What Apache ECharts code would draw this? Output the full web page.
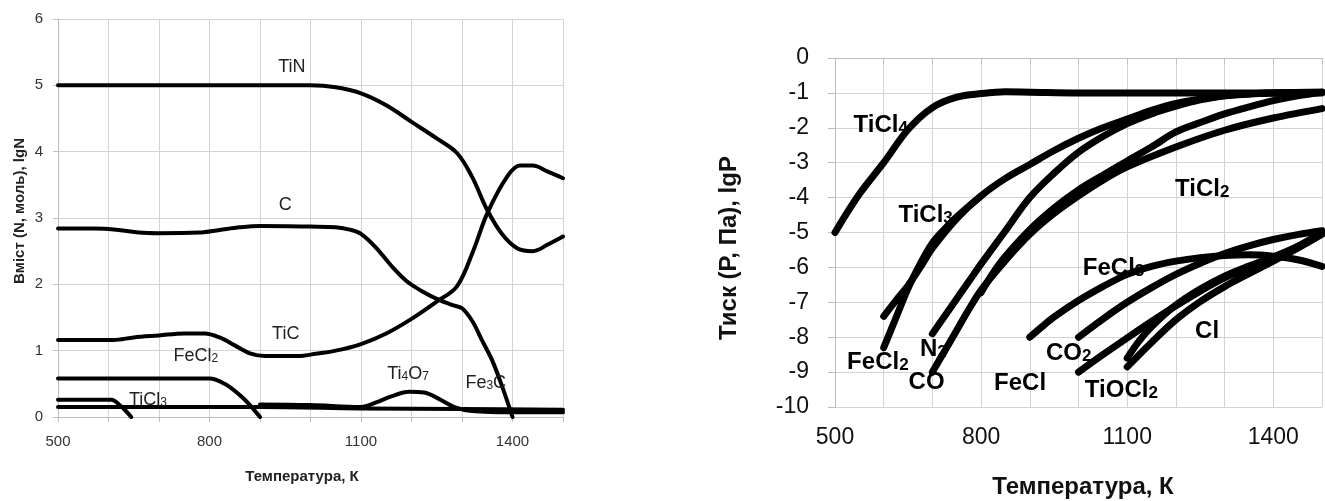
<!DOCTYPE html>
<html>
<head>
<meta charset="utf-8">
<script src="https://cdn.jsdelivr.net/npm/echarts@6/dist/echarts.min.js"></script>
<style>
html,body{margin:0;padding:0;background:#fff;}
#c{width:1325px;height:501px;}
</style>
</head>
<body>
<div id="c"></div>
<script>
// ---------- Left chart: Вміст (N, моль), lgN ----------
const L_xTicks = [500, 800, 1100, 1400];
const tTiN = [500, 1000, 1050, 1100, 1150, 1200, 1250, 1290, 1320, 1350, 1380, 1410, 1440, 1470, 1500];
const vTiN = [5, 5, 4.97, 4.88, 4.7, 4.45, 4.2, 3.98, 3.62, 3.12, 2.75, 2.54, 2.5, 2.6, 2.72];
const tC = [500, 570, 620, 660, 700, 780, 820, 860, 900, 1000, 1050, 1080, 1100, 1130, 1160, 1190, 1220, 1250, 1280, 1300, 1320, 1340, 1360, 1380, 1400];
const vC = [2.84, 2.84, 2.82, 2.78, 2.77, 2.78, 2.82, 2.86, 2.88, 2.87, 2.86, 2.82, 2.76, 2.55, 2.28, 2.05, 1.9, 1.78, 1.69, 1.64, 1.45, 1.15, 0.85, 0.45, 0.0];
const tTiC = [500, 610, 650, 700, 750, 790, 820, 850, 880, 910, 980, 1000, 1050, 1100, 1150, 1200, 1250, 1290, 1322, 1350, 1390, 1415, 1440, 1470, 1500];
const vTiC = [1.16, 1.16, 1.2, 1.23, 1.26, 1.26, 1.2, 1.08, 0.96, 0.92, 0.92, 0.94, 1.0, 1.1, 1.26, 1.48, 1.74, 1.97, 2.5, 3.07, 3.63, 3.79, 3.79, 3.7, 3.6];
const tFeCl2L = [500, 800, 830, 860, 880, 900];
const vFeCl2L = [0.58, 0.58, 0.5, 0.33, 0.18, 0.0];
const tTiCl3L = [500, 605, 625, 645];
const vTiCl3L = [0.26, 0.26, 0.16, 0.0];
const tBase = [500, 900, 1100, 1300, 1500];
const vBase = [0.15, 0.15, 0.13, 0.12, 0.11];
const tTi4O7 = [900, 1000, 1100, 1130, 1160, 1195, 1225, 1255, 1285, 1320, 1400, 1500];
const vTi4O7 = [0.19, 0.18, 0.15, 0.22, 0.31, 0.38, 0.37, 0.27, 0.15, 0.09, 0.07, 0.07];
const L_labels = ['{m|TiN}', '{m|C}', '{m|TiC}', '{m|FeCl}{s|2}', '{m|TiCl}{s|3}', '{m|Ti}{s|4}{m|O}{s|7}', '{m|Fe}{s|3}{m|C}'];
const L_labelX = [963, 950, 951, 773, 678, 1193, 1347];
const L_labelY = [5.3, 3.23, 1.28, 0.95, 0.29, 0.68, 0.54];

// ---------- Right chart: Тиск (Р, Па), lgP ----------
const R_xTicks = [500, 800, 1100, 1400];
const tTiCl4 = [500, 550, 600, 650, 700, 750, 800, 850, 900, 1000, 1100, 1200, 1300, 1400, 1500];
const vTiCl4 = [-5, -3.9, -3.0, -2.05, -1.42, -1.12, -1.02, -0.97, -0.98, -1.0, -1.0, -1.0, -1.0, -1.0, -1.0];
const tTiCl3 = [600, 625, 650, 675, 700, 750, 800, 850, 900, 950, 1000, 1050, 1100, 1150, 1200, 1300, 1400, 1500];
const vTiCl3 = [-7.4, -6.95, -6.52, -6.0, -5.45, -4.6, -3.95, -3.45, -3.05, -2.65, -2.3, -2.0, -1.75, -1.5, -1.3, -1.08, -1.0, -0.98];
const tFeCl2 = [600, 625, 650, 675, 700, 725, 750, 800];
const vFeCl2 = [-8.3, -7.45, -6.6, -5.9, -5.3, -4.9, -4.55, -3.95];
const tN2 = [700, 725, 750, 775, 800, 850, 900, 950, 1000, 1050, 1100, 1150, 1200, 1250, 1300, 1400, 1500];
const vN2 = [-7.9, -7.4, -6.9, -6.4, -5.9, -4.95, -4.0, -3.3, -2.7, -2.25, -1.88, -1.6, -1.38, -1.2, -1.08, -1.0, -0.98];
const tCO = [700, 725, 750, 775, 800, 850, 900, 950, 1000, 1050, 1100, 1200, 1300, 1400, 1500];
const vCO = [-9.0, -8.4, -7.8, -7.2, -6.65, -5.8, -5.05, -4.45, -3.95, -3.5, -3.12, -2.55, -2.07, -1.72, -1.45];
const tTiCl2 = [800, 825, 850, 900, 950, 1000, 1050, 1100, 1150, 1200, 1250, 1300, 1350, 1400, 1450, 1500];
const vTiCl2 = [-6.72, -6.15, -5.68, -4.92, -4.3, -3.78, -3.36, -2.95, -2.55, -2.12, -1.85, -1.6, -1.4, -1.22, -1.08, -0.98];
const tFeCl3 = [900, 925, 950, 1000, 1050, 1100, 1150, 1200, 1250, 1300, 1350, 1400, 1450, 1500];
const vFeCl3 = [-8.0, -7.7, -7.42, -6.95, -6.55, -6.2, -5.97, -5.82, -5.72, -5.66, -5.64, -5.68, -5.78, -5.97];
const tCO2 = [1000, 1050, 1100, 1150, 1200, 1250, 1300, 1350, 1400, 1450, 1500];
const vCO2 = [-8.0, -7.48, -7.0, -6.58, -6.2, -5.88, -5.6, -5.38, -5.2, -5.06, -4.95];
const tTiOCl2 = [1000, 1050, 1100, 1150, 1200, 1250, 1300, 1350, 1400, 1450, 1500];
const vTiOCl2 = [-9.0, -8.5, -8.02, -7.55, -7.1, -6.68, -6.3, -6.02, -5.75, -5.4, -5.0];
const tCl1 = [1100, 1125, 1150, 1200, 1250, 1300, 1350, 1400, 1450, 1500];
const vCl1 = [-8.6, -8.1, -7.7, -7.08, -6.62, -6.25, -5.96, -5.7, -5.4, -5.02];
const tCl2 = [1100, 1150, 1200, 1250, 1300, 1350, 1400, 1450, 1500];
const vCl2 = [-8.85, -8.15, -7.5, -6.98, -6.55, -6.18, -5.82, -5.45, -5.05];
const R_labels = ['{m|TiCl}{s|4}', '{m|TiCl}{s|3}', '{m|TiCl}{s|2}', '{m|FeCl}{s|3}', '{m|FeCl}{s|2}', '{m|N}{s|2}', '{m|CO}', '{m|FeCl}', '{m|CO}{s|2}', '{m|TiOCl}{s|2}', '{m|Cl}'];
const R_labelX = [594, 686, 1254, 1072, 588, 702, 688, 880, 980, 1088, 1264];
const R_labelY = [-1.86, -4.44, -3.70, -5.96, -8.65, -8.28, -9.23, -9.26, -8.40, -9.46, -7.77];

const FONT = '"Liberation Sans", Arial, sans-serif';
const zip = (a, b) => a.map((x, i) => [x, b[i]]);

function lineSeries(idx, t, v, w) {
  return {
    type: 'line', xAxisIndex: idx, yAxisIndex: idx,
    data: zip(t, v), showSymbol: false, smooth: 0.35,
    silent: true,
    lineStyle: { color: '#000', width: w, cap: 'round', join: 'round' }
  };
}
function labelSeries(idx, names, xs, ys, mSize, sSize, bold, sLH, mLH, col) {
  const base = { fontFamily: FONT, fontWeight: bold ? 'bold' : 'normal', color: col, textBorderWidth: 0, textShadowBlur: 0, verticalAlign: 'bottom' };
  return {
    type: 'scatter', xAxisIndex: idx, yAxisIndex: idx, silent: true,
    symbolSize: 1, itemStyle: { color: 'rgba(0,0,0,0)' },
    data: names.map((n, i) => [xs[i], ys[i], n]),
    label: {
      show: true, position: 'inside', color: col, textBorderWidth: 0, opacity: 1,
      formatter: p => p.data[2],
      rich: {
        m: Object.assign({}, base, { fontSize: mSize, lineHeight: mLH }),
        s: Object.assign({}, base, { fontSize: sSize, lineHeight: sLH })
      }
    },
    z: 5
  };
}

const grid = [
  { left: 58, right: 762, top: 19, bottom: 84 },
  { left: 835, right: -10, top: 58, bottom: 94 }
];
const gridColor = '#d3d3d3';
const xAxis = [
  {
    gridIndex: 0, type: 'value', min: 500, max: 1500, interval: 100,
    axisLine: { lineStyle: { color: '#bdbdbd' } },
    axisTick: { show: true, length: 5, lineStyle: { color: '#bdbdbd' } },
    splitLine: { show: true, lineStyle: { color: gridColor } },
    axisLabel: { formatter: v => (L_xTicks.includes(v) ? String(v) : ''), color: '#333', fontSize: 15, fontFamily: FONT, margin: 17 }
  },
  {
    gridIndex: 1, type: 'value', min: 500, max: 1500, interval: 100,
    axisLine: { lineStyle: { color: '#bdbdbd' } },
    axisTick: { show: true, length: 6, lineStyle: { color: '#bdbdbd' } },
    splitLine: { show: true, lineStyle: { color: gridColor } },
    axisLabel: { formatter: v => (R_xTicks.includes(v) ? String(v) : ''), color: '#111', fontSize: 23, fontFamily: FONT, margin: 19 }
  }
];
const yAxis = [
  {
    gridIndex: 0, type: 'value', min: 0, max: 6, interval: 1,
    axisLine: { show: true, lineStyle: { color: '#bdbdbd' } },
    axisTick: { show: true, length: 5, lineStyle: { color: '#bdbdbd' } },
    splitLine: { show: true, lineStyle: { color: gridColor } },
    axisLabel: { color: '#333', fontSize: 15, fontFamily: FONT, margin: 15 }
  },
  {
    gridIndex: 1, type: 'value', min: -10, max: 0, interval: 1,
    axisLine: { show: true, lineStyle: { color: '#bdbdbd' } },
    axisTick: { show: true, length: 7, lineStyle: { color: '#bdbdbd' } },
    splitLine: { show: true, lineStyle: { color: gridColor } },
    axisLabel: { color: '#111', fontSize: 23, fontFamily: FONT, margin: 26 }
  }
];

const series = [
  lineSeries(0, tTiN, vTiN, 4),
  lineSeries(0, tC, vC, 4),
  lineSeries(0, tTiC, vTiC, 4),
  lineSeries(0, tFeCl2L, vFeCl2L, 4),
  lineSeries(0, tTiCl3L, vTiCl3L, 4),
  lineSeries(0, tBase, vBase, 4),
  lineSeries(0, tTi4O7, vTi4O7, 4),
  labelSeries(0, L_labels, L_labelX, L_labelY, 18, 12, false, 14, 22, '#222'),
  lineSeries(1, tTiCl4, vTiCl4, 7),
  lineSeries(1, tTiCl3, vTiCl3, 7),
  lineSeries(1, tFeCl2, vFeCl2, 7),
  lineSeries(1, tN2, vN2, 7),
  lineSeries(1, tCO, vCO, 7),
  lineSeries(1, tTiCl2, vTiCl2, 7),
  lineSeries(1, tFeCl3, vFeCl3, 7),
  lineSeries(1, tCO2, vCO2, 7),
  lineSeries(1, tTiOCl2, vTiOCl2, 7),
  lineSeries(1, tCl1, vCl1, 7),
  lineSeries(1, tCl2, vCl2, 7),
  labelSeries(1, R_labels, R_labelX, R_labelY, 24, 17, true, 16, 28, '#000')
];

const graphic = [
  { type: 'text', x: 20, y: 211, rotation: Math.PI / 2, style: { text: 'Вміст (N, моль), lgN', font: 'bold 15px ' + FONT, fill: '#222', align: 'center', verticalAlign: 'middle' } },
  { type: 'text', x: 302, y: 477, style: { text: 'Температура, К', font: 'bold 15px ' + FONT, fill: '#222', align: 'center', verticalAlign: 'middle' } },
  { type: 'text', x: 729, y: 248, rotation: Math.PI / 2, style: { text: 'Тиск (Р, Па), lgP', font: 'bold 24px ' + FONT, fill: '#111', align: 'center', verticalAlign: 'middle' } },
  { type: 'text', x: 1083, y: 487, style: { text: 'Температура, К', font: 'bold 24px ' + FONT, fill: '#111', align: 'center', verticalAlign: 'middle' } }
];

const chart = echarts.init(document.getElementById('c'), null, { renderer: 'canvas' });
chart.setOption({ animation: false, backgroundColor: '#fff', grid, xAxis, yAxis, series, graphic });
</script>
</body>
</html>
